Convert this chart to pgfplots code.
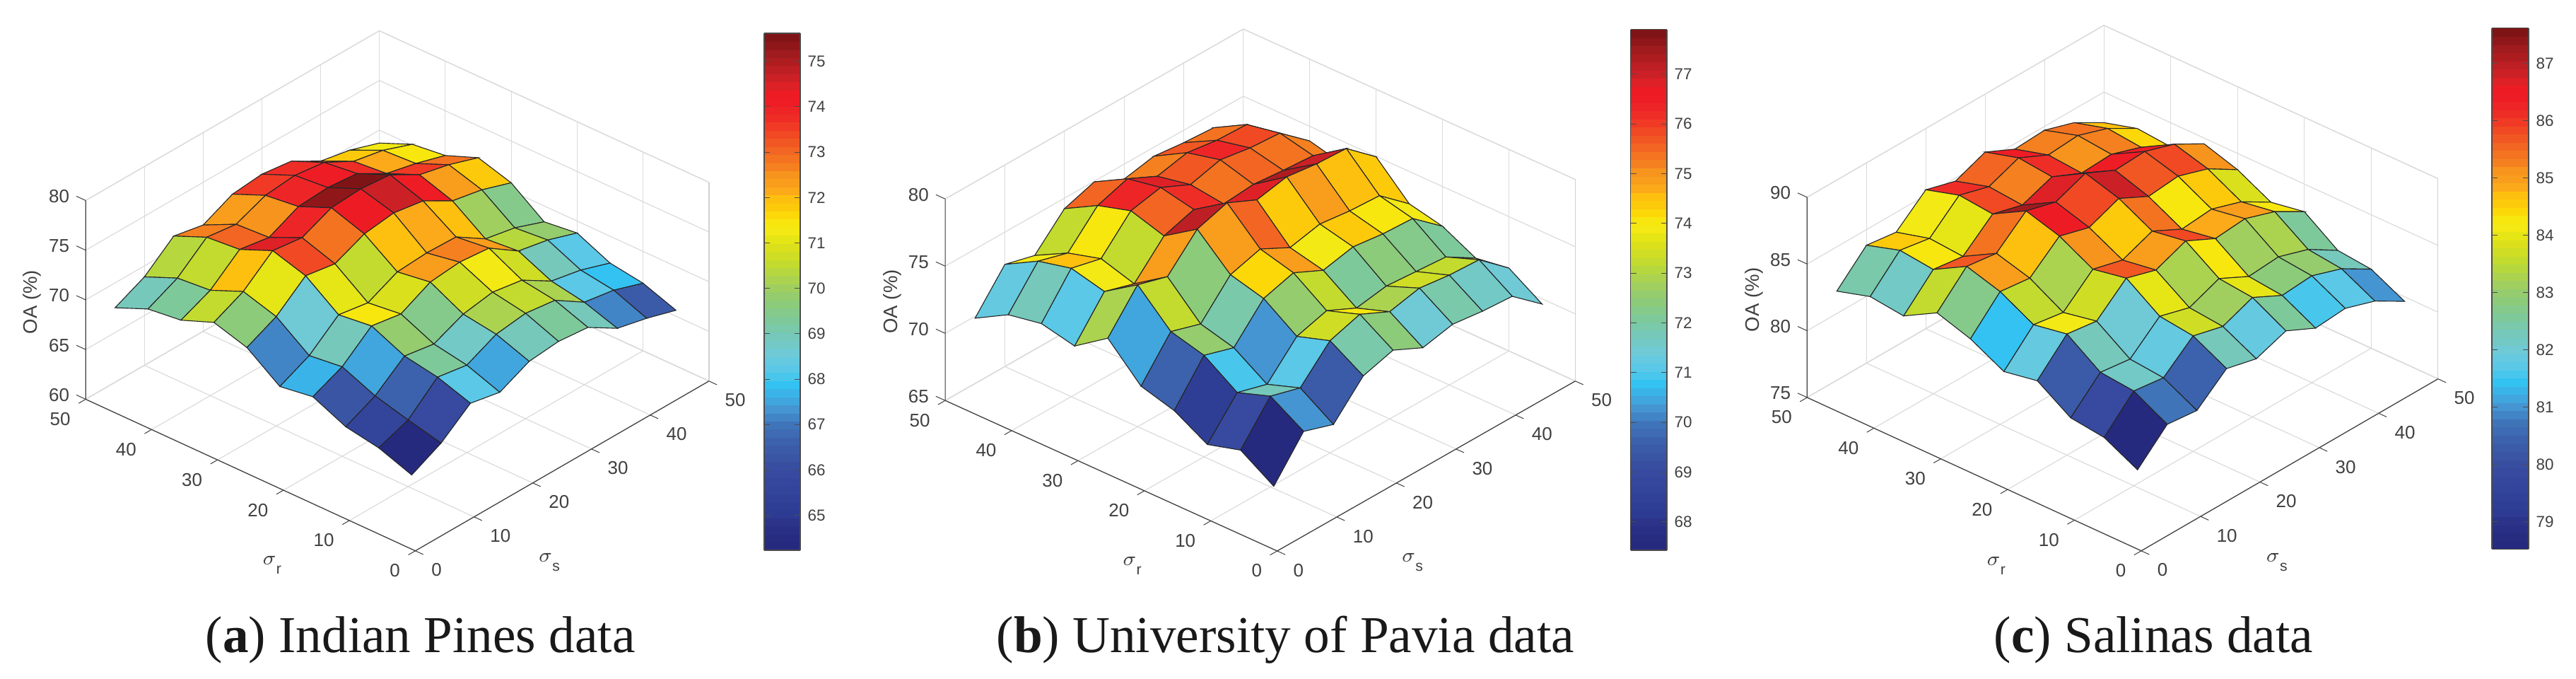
\documentclass[border=0pt]{standalone}
\usepackage{fontspec}
\setmainfont{Liberation Sans}
\newfontfamily\capfont{Liberation Serif}
\usepackage{pgfplots}
\pgfplotsset{compat=1.18}
\definecolor{labelgray}{gray}{0.25}
\pgfplotsset{
  /pgf/number format/assume math mode=true,
  colormap={band64}{
    HTML=(262A7E) HTML=(272C80) HTML=(292F85) HTML=(2B3489) HTML=(2D3B92) HTML=(2F3E95) HTML=(314198) HTML=(33449B)
    HTML=(35479D) HTML=(374A9F) HTML=(384EA1) HTML=(3A55A4) HTML=(3B5BA8) HTML=(3C62AD) HTML=(3E6BB3) HTML=(3F74B8)
    HTML=(4285C6) HTML=(4595D2) HTML=(40A6DD) HTML=(3AB4E8) HTML=(33C2F2) HTML=(48C6EC) HTML=(5AC8E6) HTML=(65C9DF)
    HTML=(6FCAD6) HTML=(72C9C6) HTML=(75C8BA) HTML=(79C9AA) HTML=(7EC99A) HTML=(85CA8A) HTML=(8CCB7A) HTML=(94CC6E)
    HTML=(A0CF60) HTML=(ABD350) HTML=(B6D83E) HTML=(C2DB2E) HTML=(CFDE24) HTML=(DAE01C) HTML=(E6E516) HTML=(F3E914)
    HTML=(F8E60F) HTML=(FCD809) HTML=(FDCA0B) HTML=(FEC00E) HTML=(FCA91A) HTML=(F99D1C) HTML=(F7941D) HTML=(F5801F)
    HTML=(F47320) HTML=(F26522) HTML=(F15723) HTML=(F04923) HTML=(F03A25) HTML=(EF2D27) HTML=(EE2527) HTML=(EE1C25)
    HTML=(ED1C24) HTML=(DD2126) HTML=(CB2026) HTML=(BD1F24) HTML=(AD1D20) HTML=(A01B1E) HTML=(8F1719) HTML=(7F1416)
  },
  oasurf/.style={
    anchor=origin,
    xmin=0, xmax=50, ymin=0, ymax=50,
    xtick={0,10,...,50}, ytick={0,10,...,50},
    grid=major,
    grid style={black!14, line width=0.3pt},
    axis line style={black!18, line width=0.3pt},
    major tick length=0pt,
    zticklabel pos=left,
    tick label style={font=\fontsize{6.5}{7}\selectfont, text=labelgray, inner sep=0pt},
    xticklabel style={anchor=west, xshift=5.5pt, yshift=-6.8pt},
    yticklabel style={anchor=east, xshift=-5.2pt, yshift=-7pt},
    zticklabel style={anchor=east, xshift=-5.6pt, yshift=1.5pt},
    xlabel={$\sigma$\raisebox{-3.2pt}{\fontsize{5.3}{6}\selectfont s}},
    ylabel={$\sigma$\raisebox{-3.2pt}{\fontsize{5.3}{6}\selectfont r}},
    zlabel={OA (\%)},
    label style={font=\fontsize{6.9}{8}\selectfont, text=labelgray, inner sep=0pt},
    colormap name=band64,
    colormap access=piecewise constant,
    clip=false,
  },
  oabar/.style={
    hide axis, scale only axis, width=1pt, anchor=north east,
    xmin=0, xmax=1, ymin=0, ymax=1,
    colormap name=band64,
    colormap access=piecewise constant,
    colorbar sampled,
    colorbar style={
      at={(parent axis.north east)}, anchor=north west,
      samples=65,
      tick align=inside,
      major tick length=2pt,
      axis line style={black!70, line width=0.35pt},
      tick style={black!70, line width=0.25pt},
      yticklabel style={font=\fontsize{5.6}{6}\selectfont, text=labelgray, inner sep=0pt, anchor=west, xshift=2.4pt},
    },
  },
  surfstyle/.style={surf, shader=flat corner, draw=black!85, line width=0.28pt, mesh/ordering=y varies, mesh/rows=10, mesh/cols=10},
}
% dark front edges and outward tick marks: #1 zmin, #2 zmax, #3 z ticks
\newcommand{\oaframe}[3]{%
  \draw[black!75, line width=0.3pt] (axis cs:50,0,#1) -- (axis cs:0,0,#1) -- (axis cs:0,50,#1) -- (axis cs:0,50,#2);
  \pgfplotsinvokeforeach{0,10,20,30,40,50}{%
    \draw[black!75, line width=0.25pt] (axis cs:##1,0,#1) -- (axis cs:##1,-1.2,#1);
    \draw[black!75, line width=0.25pt] (axis cs:0,##1,#1) -- (axis cs:-1.2,##1,#1);
  }%
  \pgfplotsinvokeforeach{#3}{%
    \draw[black!75, line width=0.25pt] (axis cs:0,50,##1) -- (axis cs:0,51.4,##1);
  }%
}
\begin{document}
\begin{tikzpicture}
\path[use as bounding box] (0,0) rectangle (911pt,240pt);

% (a) Indian Pines
\begin{axis}[oasurf,
    at={(146.875pt,45.3pt)},
    x={(2.077pt,1.2pt)}, y={(-2.3315pt,1.0715pt)}, z={(0pt,3.5125pt)},
    zmin=60, zmax=80, ztick={60,65,...,80},
    point meta min=64.23, point meta max=75.62,
    xlabel style={at={(axis cs:8.2,-13,60)},anchor=center},
    ylabel style={at={(axis cs:-13.2,10,60)},anchor=center},
    zlabel style={at={(axis cs:0,58.1,67.3)},anchor=center,rotate=0},
]
\addplot3[surfstyle] coordinates {
(5,5,64.4) (5,10,65.6) (5,15,66.2) (5,20,67.7) (5,25,67.2) (5,30,69.6) (5,35,70.6) (5,40,69.3) (5,45,68.9) (5,50,67.5)
(10,5,65.9) (10,10,66.7) (10,15,67.6) (10,20,69.0) (10,25,68.6) (10,30,71.0) (10,35,72.0) (10,40,70.6) (10,45,70.3) (10,50,68.9)
(15,5,68.2) (15,10,69.3) (15,15,69.9) (15,20,71.4) (15,25,71.0) (15,30,73.4) (15,35,74.4) (15,40,73.0) (15,45,72.7) (15,50,71.3)
(20,5,67.6) (20,10,68.8) (20,15,69.4) (20,20,70.9) (20,25,70.5) (20,30,72.9) (20,35,74.0) (20,40,72.5) (20,45,72.3) (20,50,70.7)
(25,5,69.0) (25,10,70.2) (25,15,70.7) (25,20,72.4) (25,25,71.9) (25,30,74.2) (25,35,75.3) (25,40,73.9) (25,45,73.5) (25,50,72.1)
(30,5,69.3) (30,10,70.6) (30,15,71.2) (30,20,72.7) (30,25,72.1) (30,30,74.6) (30,35,75.5) (30,40,74.1) (30,45,73.8) (30,50,72.4)
(35,5,69.0) (35,10,70.2) (35,15,70.7) (35,20,72.4) (35,25,72.0) (35,30,74.1) (35,35,75.2) (35,40,73.8) (35,45,73.4) (35,50,72.0)
(40,5,67.2) (40,10,68.3) (40,15,68.9) (40,20,70.4) (40,25,70.1) (40,30,72.4) (40,35,73.5) (40,40,72.1) (40,45,71.8) (40,50,70.3)
(45,5,66.5) (45,10,67.8) (45,15,68.3) (45,20,69.8) (45,25,69.5) (45,30,71.8) (45,35,72.8) (45,40,71.4) (45,45,71.2) (45,50,69.7)
(50,5,65.6) (50,10,66.8) (50,15,67.3) (50,20,68.8) (50,25,68.4) (50,30,70.8) (50,35,71.8) (50,40,70.5) (50,45,70.1) (50,50,68.7)
};
\oaframe{60}{80}{60,65,70,75,80}
\end{axis}
\begin{axis}[oabar, at={(261.75pt,228.25pt)}, height=182.75pt,
    point meta min=64.23, point meta max=75.62,
    colorbar style={width=12.75pt, height=182.75pt, ytick={65,...,75}}]
\addplot[draw=none] coordinates {(0,0)};
\end{axis}

% (b) University of Pavia
\begin{axis}[oasurf,
    at={(451.675pt,45.25pt)},
    x={(2.1085pt,1.201pt)}, y={(-2.348pt,1.0635pt)}, z={(0pt,4.75pt)},
    zmin=65, zmax=80, ztick={65,70,...,80},
    point meta min=67.43, point meta max=77.9,
    xlabel style={at={(axis cs:8.2,-13,65)},anchor=center},
    ylabel style={at={(axis cs:-13.2,10,65)},anchor=center},
    zlabel style={at={(axis cs:0,58.0,70.57)},anchor=center,rotate=0},
]
\addplot3[surfstyle] coordinates {
(5,5,67.43) (5,10,69.0) (5,15,68.3) (5,20,69.7) (5,25,70.4) (5,30,72.85) (5,35,71.15) (5,40,71.7) (5,45,71.24) (5,50,69.86)
(10,5,70.25) (10,10,71.75) (10,15,70.9) (10,20,72.55) (10,25,73.2) (10,30,75.56) (10,35,73.94) (10,40,74.55) (10,45,73.96) (10,50,72.6)
(15,5,69.5) (15,10,71.1) (15,15,70.25) (15,20,71.85) (15,25,72.5) (15,30,74.9) (15,35,73.25) (15,40,74.0) (15,45,73.3) (15,50,72.0)
(20,5,71.85) (20,10,73.35) (20,15,72.55) (20,20,74.25) (20,25,74.9) (20,30,77.17) (20,35,75.55) (20,40,76.3) (20,45,75.57) (20,50,74.22)
(25,5,72.5) (25,10,74.05) (25,15,73.2) (25,20,74.9) (25,25,75.55) (25,30,77.87) (25,35,76.25) (25,40,76.77) (25,45,76.3) (25,50,74.95)
(30,5,71.42) (30,10,72.98) (30,15,72.13) (30,20,73.82) (30,25,74.39) (30,30,76.82) (30,35,75.4) (30,40,75.72) (30,45,75.22) (30,50,73.89)
(35,5,71.9) (35,10,73.47) (35,15,72.5) (35,20,74.3) (35,25,74.88) (35,30,77.27) (35,35,75.59) (35,40,76.3) (35,45,75.71) (35,50,74.33)
(40,5,71.61) (40,10,73.17) (40,15,72.32) (40,20,74.0) (40,25,74.59) (40,30,76.97) (40,35,75.37) (40,40,75.92) (40,45,75.37) (40,50,74.07)
(45,5,71.45) (45,10,73.05) (45,15,72.14) (45,20,73.88) (45,25,74.46) (45,30,76.85) (45,35,75.2) (45,40,75.76) (45,45,75.28) (45,50,73.92)
(50,5,69.61) (50,10,71.17) (50,15,70.79) (50,20,72.04) (50,25,72.59) (50,30,74.97) (50,35,73.3) (50,40,73.91) (50,45,73.43) (50,50,72.1)
};
\oaframe{65}{80}{65,70,75,80}
\end{axis}
\begin{axis}[oabar, at={(568.1pt,229.6pt)}, height=184.1pt,
    point meta min=67.43, point meta max=77.9,
    colorbar style={width=12.9pt, height=184.1pt, ytick={68,...,77}}]
\addplot[draw=none] coordinates {(0,0)};
\end{axis}

% (c) Salinas
\begin{axis}[oasurf,
    at={(757.25pt,45.3pt)},
    x={(2.099pt,1.2155pt)}, y={(-2.3635pt,1.084pt)}, z={(0pt,4.7175pt)},
    zmin=75, zmax=90, ztick={75,80,...,90},
    point meta min=78.52, point meta max=87.62,
    xlabel style={at={(axis cs:8.2,-13,75)},anchor=center},
    ylabel style={at={(axis cs:-13.2,10,75)},anchor=center},
    zlabel style={at={(axis cs:0,57.9,80.5)},anchor=center,rotate=0},
]
\addplot3[surfstyle] coordinates {
(5,5,78.63) (5,10,79.91) (5,15,80.23) (5,20,81.86) (5,25,81.4) (5,30,82.7) (5,35,83.5) (5,40,82.12) (5,45,82.42) (5,50,81.68)
(10,5,80.75) (10,10,82.1) (10,15,82.35) (10,20,84.07) (10,25,83.62) (10,30,84.95) (10,35,85.69) (10,40,84.31) (10,45,84.6) (10,50,83.83)
(15,5,80.5) (15,10,81.8) (15,15,82.05) (15,20,83.75) (15,25,83.25) (15,30,84.67) (15,35,85.38) (15,40,84.0) (15,45,84.2) (15,50,83.52)
(20,5,82.35) (20,10,83.65) (20,15,83.97) (20,20,85.68) (20,25,85.2) (20,30,86.53) (20,35,87.27) (20,40,85.89) (20,45,86.15) (20,50,85.41)
(25,5,81.8) (25,10,83.07) (25,15,83.33) (25,20,85.0) (25,25,84.6) (25,30,85.89) (25,35,86.65) (25,40,85.27) (25,45,85.5) (25,50,84.77)
(30,5,82.6) (30,10,83.95) (30,15,84.22) (30,20,85.89) (30,25,85.48) (30,30,86.78) (30,35,87.52) (30,40,86.1) (30,45,86.37) (30,50,85.66)
(35,5,81.52) (35,10,82.82) (35,15,83.09) (35,20,84.78) (35,25,84.34) (35,30,85.64) (35,35,86.45) (35,40,85.09) (35,45,85.3) (35,50,84.59)
(40,5,81.71) (40,10,83.0) (40,15,83.27) (40,20,84.98) (40,25,84.55) (40,30,85.87) (40,35,86.57) (40,40,85.21) (40,45,85.47) (40,50,84.72)
(45,5,80.97) (45,10,82.24) (45,15,82.54) (45,20,84.22) (45,25,83.81) (45,30,85.13) (45,35,85.83) (45,40,84.45) (45,45,84.71) (45,50,84.0)
(50,5,79.66) (50,10,80.92) (50,15,81.18) (50,20,82.93) (50,25,82.49) (50,30,83.78) (50,35,84.57) (50,40,83.2) (50,45,83.42) (50,50,82.71)
};
\oaframe{75}{90}{75,80,85,90}
\end{axis}
\begin{axis}[oabar, at={(872.75pt,230.05pt)}, height=184.15pt,
    point meta min=78.52, point meta max=87.62,
    colorbar style={width=13pt, height=184.15pt, ytick={79,...,87}}]
\addplot[draw=none] coordinates {(0,0)};
\end{axis}

% captions
\node[anchor=base west, inner sep=0pt, text=black!90] at (72.5pt,9.25pt)
  {\capfont\fontsize{18.3}{20}\selectfont(\textbf{a}) Indian Pines data};
\node[anchor=base west, inner sep=0pt, text=black!90] at (352.25pt,9.25pt)
  {\capfont\fontsize{18.3}{20}\selectfont(\textbf{b}) University of Pavia data};
\node[anchor=base west, inner sep=0pt, text=black!90] at (705pt,9.25pt)
  {\capfont\fontsize{18.3}{20}\selectfont(\textbf{c}) Salinas data};
\end{tikzpicture}
\end{document}
